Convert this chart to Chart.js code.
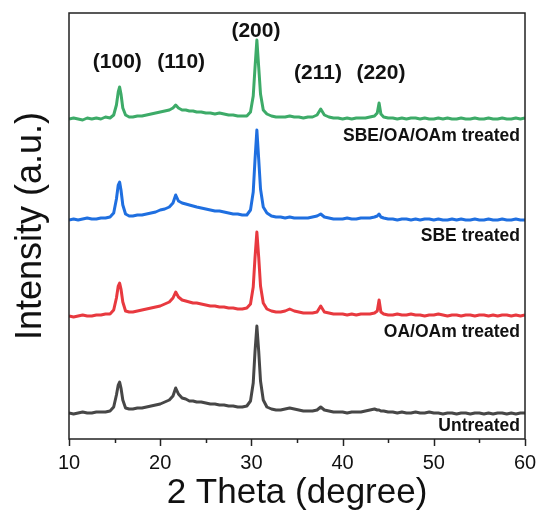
<!DOCTYPE html>
<html>
<head>
<meta charset="utf-8">
<script src="https://cdn.jsdelivr.net/npm/chart.js@4.4.1/dist/chart.umd.min.js"></script>
<style>
    html, body { margin: 0; padding: 0; background: #fff; }
    #wrap { width: 539px; height: 514px; position: relative; }
</style>
</head>
<body>
<div id="wrap"><canvas id="xrd"></canvas></div>
<script>
// 2θ positions (degree)
var twoTheta = [
    10, 10.5, 11, 11.5, 12, 12.5, 13, 13.5, 14, 14.5,
    14.9, 15.2, 15.4, 15.55, 15.7, 15.9, 16.2, 16.6, 17, 17.5,
    18, 18.5, 19, 19.5, 20, 20.5, 21, 21.4, 21.7, 22.0,
    22.4, 22.8, 23.2, 23.6, 24, 24.5, 25, 25.5, 26, 26.5,
    27, 27.5, 28, 28.5, 29, 29.5, 29.9, 30.2, 30.4, 30.6,
    30.8, 31.0, 31.3, 31.7, 32.2, 32.7, 33.2, 33.7, 34.2, 34.7,
    35.2, 35.7, 36.2, 36.7, 37.2, 37.6, 38.0, 38.5, 39, 39.5,
    40, 40.5, 41, 41.5, 42, 42.5, 43, 43.5, 43.8, 44.0,
    44.2, 44.5, 45, 45.5, 46, 46.5, 47, 47.5, 48, 48.5,
    49, 49.5, 50, 50.5, 51, 51.5, 52, 52.5, 53, 53.5,
    54, 54.5, 55, 55.5, 56, 56.5, 57, 57.5, 58, 58.5,
    59, 59.5, 60
];

// intensities (a.u., stacked with offsets)
var untreated = [
    26, 25, 26, 27, 26, 26, 27, 27, 27, 28,
    32, 44, 54, 57, 51, 39, 31, 30, 30, 31,
    31, 32, 33, 34, 35, 37, 39, 43, 51, 45,
    41, 40, 38, 38, 37, 37, 36, 35, 35, 34,
    34, 33, 33, 32, 32, 33, 38, 56, 88, 113,
    88, 58, 39, 32, 30, 29, 29, 30, 31, 30,
    29, 28, 28, 28, 29, 32, 29, 28, 27, 27,
    27, 26, 27, 27, 27, 28, 29, 30, 29, 29,
    28, 28, 27, 27, 26, 27, 26, 26, 27, 26,
    26, 27, 26, 26, 25, 26, 26, 25, 26, 26,
    25, 26, 26, 25, 26, 25, 26, 26, 25, 26,
    25, 26, 26
];
var oaOamTreated = [
    123, 122, 123, 124, 123, 123, 124, 124, 125, 125,
    129, 141, 153, 156, 150, 137, 128, 127, 127, 128,
    129, 130, 131, 132, 133, 135, 137, 141, 147, 142,
    139, 138, 137, 136, 136, 135, 134, 133, 133, 132,
    132, 131, 131, 130, 130, 131, 135, 152, 182, 207,
    182, 153, 136, 130, 128, 127, 127, 128, 130, 128,
    127, 126, 126, 126, 127, 133, 127, 126, 125, 125,
    125, 124, 125, 124, 125, 125, 125, 126, 128, 139,
    127, 125, 124, 124, 125, 124, 124, 125, 124, 124,
    123, 124, 124, 125, 124, 123, 124, 124, 123, 124,
    124, 123, 124, 124, 123, 124, 123, 124, 124, 123,
    124, 123, 124
];
var sbeTreated = [
    219, 220, 219, 220, 221, 220, 220, 221, 221, 222,
    226, 240, 254, 257, 249, 234, 225, 223, 223, 224,
    224, 225, 226, 227, 229, 230, 232, 236, 244, 238,
    236, 235, 234, 233, 232, 231, 230, 229, 228, 228,
    227, 226, 225, 225, 224, 224, 229, 247, 280, 309,
    280, 250, 232, 226, 223, 222, 222, 221, 222, 221,
    221, 221, 221, 222, 223, 225, 222, 221, 220, 220,
    220, 221, 220, 220, 221, 221, 221, 222, 223, 225,
    222, 221, 220, 220, 219, 220, 220, 219, 220, 219,
    220, 220, 219, 220, 219, 219, 220, 219, 220, 219,
    219, 220, 219, 219, 220, 219, 219, 220, 219, 219,
    220, 219, 219
];
var sbeOaOamTreated = [
    320, 321, 320, 319, 321, 320, 321, 320, 322, 321,
    324, 334, 347, 352, 345, 331, 324, 322, 322, 323,
    323, 324, 325, 326, 327, 328, 329, 331, 334, 331,
    329, 329, 328, 328, 327, 327, 326, 326, 325, 326,
    325, 324, 324, 323, 323, 323, 327, 343, 372, 399,
    372, 345, 329, 325, 323, 322, 322, 322, 323, 322,
    322, 321, 322, 322, 324, 330, 324, 322, 321, 321,
    320, 321, 320, 321, 321, 321, 322, 323, 326, 336,
    325, 322, 321, 321, 320, 321, 320, 321, 321, 320,
    321, 320, 320, 321, 320, 321, 320, 320, 321, 320,
    320, 321, 320, 320, 321, 320, 320, 321, 320, 320,
    321, 320, 321
];

var seriesNames = ["Untreated", "OA/OAm treated", "SBE treated", "SBE/OA/OAm treated"];
var seriesColors = ["#474747", "#e8393f", "#1f6fe0", "#3dab68"];
// where each trace's name sits (y in a.u.)
var nameLevels = [13, 107, 203, 303];

var peakLabels = ["(100)", "(110)", "(200)", "(211)", "(220)"];
var peakLabelX = [15.3, 22.3, 30.5, 37.3, 44.2];
var peakLabelY = [377, 377, 408, 366, 366];

var xTicks = [10, 15, 20, 25, 30, 35, 40, 45, 50, 55, 60];

var traces = [untreated, oaOamTreated, sbeTreated, sbeOaOamTreated];

function toPoints(ys) {
    return ys.map(function (y, i) { return { x: twoTheta[i], y: y }; });
}

var font = "'Liberation Sans', Arial, sans-serif";

// frame, tick marks, peak indices and trace names
var decorations = {
    id: "decorations",
    afterDraw: function (chart) {
        var ctx = chart.ctx;
        var area = chart.chartArea;
        var xs = chart.scales.x;
        var ys = chart.scales.y;
        ctx.save();
        ctx.strokeStyle = "#222";
        ctx.lineWidth = 1.5;
        ctx.strokeRect(area.left, area.top, area.right - area.left, area.bottom - area.top);
        xTicks.forEach(function (v) {
            var px = Math.round(xs.getPixelForValue(v)) + 0.5;
            var len = v % 10 === 0 ? 7 : 4;
            ctx.beginPath();
            ctx.moveTo(px, area.bottom);
            ctx.lineTo(px, area.bottom + len);
            ctx.stroke();
        });
        ctx.fillStyle = "#111";
        ctx.textAlign = "center";
        ctx.textBaseline = "middle";
        ctx.font = "bold 21px " + font;
        peakLabels.forEach(function (t, i) {
            ctx.fillText(t, xs.getPixelForValue(peakLabelX[i]), ys.getPixelForValue(peakLabelY[i]));
        });
        ctx.textAlign = "right";
        ctx.font = "bold 17.5px " + font;
        seriesNames.forEach(function (t, i) {
            ctx.fillText(t, area.right - 5, ys.getPixelForValue(nameLevels[i]));
        });
        ctx.restore();
    },
};

var ctx = document.getElementById("xrd").getContext("2d");
var myChart = new Chart(ctx, {
    type: "line",
    data: {
        datasets: traces.map(function (t, i) {
            return {
                label: seriesNames[i],
                data: toPoints(t),
                borderColor: seriesColors[i],
                borderWidth: 3,
                borderJoinStyle: "round",
                pointRadius: 0,
                tension: 0,
                fill: false,
            };
        }),
    },
    options: {
        responsive: true,
        maintainAspectRatio: false,
        animation: false,
        layout: { padding: { top: 13, right: 14, left: 0, bottom: 0 } },
        plugins: {
            legend: { display: false },
            tooltip: { enabled: false },
        },
        scales: {
            x: {
                type: "linear",
                min: 10,
                max: 60,
                grid: { display: true, drawOnChartArea: false, color: "rgba(0,0,0,0)", tickLength: 7 },
                border: { display: false },
                ticks: {
                    stepSize: 10,
                    color: "#111",
                    padding: 5,
                    maxRotation: 0,
                    font: { family: font, size: 20 },
                },
                title: {
                    display: true,
                    text: "2 Theta (degree)",
                    color: "#111",
                    font: { family: font, size: 35 },
                    padding: { top: 0, bottom: 0 },
                },
                afterFit: function (s) {
                    s.height = 75;
                    s.paddingLeft = 0;
                    s.paddingRight = 0;
                },
            },
            y: {
                min: 0,
                max: 426,
                grid: { display: false },
                border: { display: false },
                ticks: { display: false },
                title: {
                    display: true,
                    text: "Intensity (a.u.)",
                    color: "#111",
                    font: { family: font, size: 36 },
                    padding: { top: 9, bottom: 0 },
                },
                afterFit: function (s) { s.width = 69; },
            },
        },
    },
    plugins: [decorations],
});
</script>
</body>
</html>
